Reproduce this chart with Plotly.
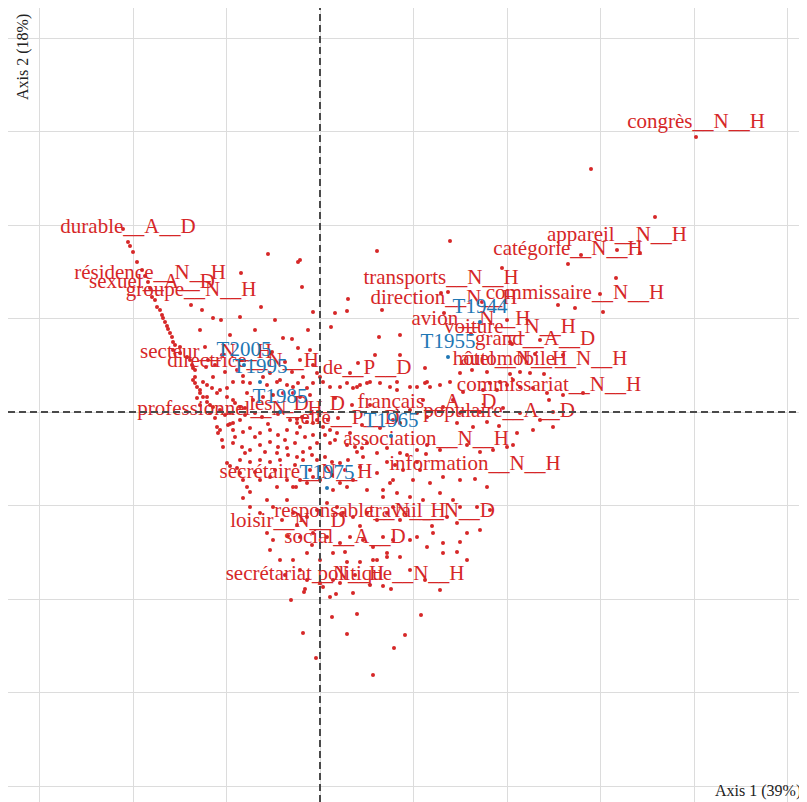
import plotly.graph_objects as go

# coordonnées (axe 1, axe 2)
streak = [(-1.97, 1.83), (-1.90, 1.66), (-1.87, 1.60), (-1.83, 1.50), (-1.78, 1.42), (-1.75, 1.36),
          (-1.72, 1.30), (-1.65, 1.12), (-1.63, 1.05), (-1.60, 1.02), (-1.58, 0.97), (-1.57, 0.94),
          (-1.55, 0.90), (-1.53, 0.86), (-1.52, 0.83), (-1.50, 0.79), (-1.48, 0.75), (-1.47, 0.70),
          (-1.45, 0.67), (-1.47, 0.62), (-1.40, 0.59), (-1.40, 0.65), (-1.33, 0.55), (-1.30, 0.52),
          (-1.28, 0.47), (-1.27, 0.44), (-1.25, 0.42), (-1.25, 0.35), (-1.27, 0.32), (-1.25, 0.29),
          (-1.23, 0.25), (-1.20, 0.22), (-1.20, 0.19), (-1.23, 0.14), (-1.17, 0.15), (-1.20, 0.07),
          (-1.13, 0.10), (-1.10, 0.07), (-1.10, -0.01), (-1.07, 0.05), (-1.05, -0.06), (-1.03, -0.15),
          (-1.02, -0.21), (-1.00, -0.18), (-0.98, -0.28), (-0.97, -0.35), (-0.93, -0.51), (-0.90, -0.54),
          (-0.83, -0.56), (-0.80, -0.61), (-0.77, -0.68), (-0.73, -0.75), (-0.70, -0.80), (-0.77, -0.86)]

core_left = [(-0.52, 1.58), (-0.22, 1.50), (-0.79, 1.39), (-1.18, 1.02), (-0.59, 1.05), (-1.07, 0.94),
             (-0.99, 0.92), (-0.80, 0.95), (-0.37, 0.74), (-0.28, 0.73), (-0.22, 0.64), (-1.15, 0.65),
             (-1.17, 0.30), (-1.07, 0.35), (-1.13, 0.27), (-1.08, 0.24), (-1.00, 0.22), (-1.03, 0.19),
             (-0.93, 0.24), (-0.87, 0.30), (-0.77, 0.30), (-0.70, 0.29), (-0.57, 0.35), (-0.50, 0.39),
             (-0.40, 0.32), (-0.33, 0.27), (-0.27, 0.25), (-0.22, 0.29), (-0.17, 0.35), (-0.07, 0.29),
             (0.00, 0.35), (0.03, 0.30), (-1.13, 0.15), (-0.93, 0.15), (-0.73, 0.19), (-0.87, 0.12),
             (-0.80, 0.05), (-0.67, 0.12), (-0.57, 0.15), (-0.47, 0.17), (-0.37, 0.19), (-0.27, 0.19),
             (-0.20, 0.15), (-0.10, 0.17), (-1.00, 0.02), (-0.95, -0.03), (-0.03, -0.08), (0.08, -0.08),
             (-0.53, 0.27), (-0.43, 0.30), (-0.13, 0.24), (-0.85, 0.09), (-0.75, 0.04), (-0.65, -0.01),
             (-0.80, -0.08), (-0.30, -0.08), (-0.23, -0.11), (-0.18, -0.05), (-0.13, -0.10), (-0.07, -0.11),
             (0.03, -0.15), (0.05, -0.23), (-0.90, -0.01), (-0.87, -0.11), (-0.87, -0.18), (-0.77, -0.20),
             (-0.70, -0.16), (-0.60, -0.21), (-0.50, -0.18), (-0.42, -0.23), (-0.33, -0.18), (-0.23, -0.21),
             (-0.15, -0.25), (-0.07, -0.23), (-0.87, -0.31), (-0.78, -0.35), (-0.70, -0.38), (-0.60, -0.33),
             (-0.50, -0.30), (-0.42, -0.35), (-0.33, -0.36), (-0.25, -0.31), (-0.17, -0.40), (-0.10, -0.36),
             (-0.03, -0.31), (-0.80, -0.48), (-0.70, -0.50), (-0.60, -0.48), (-0.50, -0.50), (-0.40, -0.48),
             (-0.32, -0.43), (-0.23, -0.45), (-0.17, -0.48), (-0.08, -0.43), (-0.03, -0.48), (0.05, -0.45),
             (-0.43, -0.41), (-0.75, -0.03), (-0.58, -0.05), (-0.42, -0.02), (-0.52, -0.12), (-0.65, -0.25),
             (-0.35, -0.28), (-0.20, -0.15), (-0.55, -0.40), (-0.75, -0.41), (-0.25, -0.53), (-0.45, -0.58),
             (-0.65, -0.60), (-0.10, -0.58), (-0.92, -0.13), (-0.85, -0.25), (-1.05, 0.47), (-0.95, 0.40),
             (-0.83, 0.42), (-0.35, 0.50), (-0.20, 0.52), (-0.10, 0.62), (-0.48, 0.60), (-0.98, 0.57),
             (-1.12, 0.52), (-0.28, 0.40), (-0.07, 0.47), (-0.65, 0.82), (-0.90, 0.77), (-1.20, 0.82),
             (-0.45, 0.92), (-0.12, 0.82)]

core_right = [(0.10, 0.25), (0.27, 0.29), (0.33, 0.24), (0.40, 0.27), (0.50, 0.30), (0.70, 0.25),
              (0.77, 0.30), (0.97, 0.25), (1.05, 0.29), (0.10, -0.31), (0.15, -0.28), (0.27, -0.33),
              (0.35, -0.35), (0.42, -0.36), (0.10, -0.18), (0.17, -0.21), (0.12, -0.50), (0.20, -0.51),
              (0.28, -0.48), (0.37, -0.40), (0.43, -0.45), (0.57, -0.41), (0.67, -0.50), (0.87, -0.43),
              (0.97, -0.50), (1.07, -0.33), (0.73, -0.08), (0.80, -0.11), (0.90, 0.02), (0.97, -0.01),
              (1.03, 0.12), (0.37, 0.25), (0.60, 0.29), (0.77, 0.22), (0.90, 0.25), (1.07, 0.30),
              (1.20, 0.27), (1.30, 0.30), (1.43, 0.20), (1.63, 0.22), (1.77, 0.22), (1.87, 0.27),
              (2.00, 0.25), (2.13, 0.24), (2.27, 0.19), (2.43, 0.17), (2.63, 0.19), (1.23, 0.05),
              (1.33, 0.12), (1.40, -0.01), (1.60, 0.00), (1.83, 0.04), (2.00, -0.01), (2.33, 0.00),
              (1.37, -0.11), (1.53, -0.15), (1.67, -0.10), (1.97, -0.21), (2.13, -0.18), (2.20, -0.08),
              (2.33, -0.15), (0.47, -0.31), (0.67, -0.36), (0.80, -0.41), (0.97, -0.38), (1.20, -0.38),
              (1.47, -0.33), (1.60, -0.40), (1.73, -0.38), (1.87, -0.35), (1.93, -0.33), (0.40, -0.55),
              (0.57, -0.61), (0.73, -0.68), (0.83, -0.58), (0.93, -0.68), (1.10, -0.71), (1.23, -0.65),
              (1.40, -0.68), (1.67, -0.75), (0.47, -0.78), (0.63, -0.85), (0.77, -0.81), (0.90, -0.85),
              (1.03, -0.88), (1.20, -0.81), (1.33, -0.88), (1.40, -0.95), (1.57, -0.95), (1.27, -1.05),
              (1.37, -1.11), (1.47, -1.21), (0.97, -1.25), (1.13, -1.21), (1.07, -1.35), (1.23, -1.31),
              (1.40, -1.30), (1.23, -1.41), (1.37, -1.40), (0.40, -1.50), (0.53, -1.48), (0.67, -1.45),
              (0.80, -1.45), (1.47, -1.48), (1.20, -1.78), (0.20, -1.71), (0.33, -1.81), (0.15, 0.14),
              (0.32, 0.07), (0.18, -0.06), (0.50, 0.07), (0.60, -0.16), (0.42, -0.13), (0.25, -0.58),
              (0.12, -0.63), (0.75, -0.53), (1.00, -0.58)]

core_low = [(-0.60, -0.68), (-0.50, -0.65), (-0.43, -0.75), (-0.33, -0.68), (-0.27, -0.75), (-0.20, -0.68),
            (-0.13, -0.71), (-0.07, -0.65), (0.00, -0.68), (0.13, -0.78), (0.20, -0.71), (0.27, -0.75),
            (0.33, -0.68), (0.63, -0.78), (0.70, -0.71), (-0.70, -0.95), (-0.60, -1.01), (-0.53, -0.88),
            (-0.47, -0.95), (-0.33, -0.88), (-0.27, -1.01), (-0.13, -1.05), (-0.03, -0.98), (0.07, -0.91),
            (0.17, -0.95), (0.23, -1.01), (0.33, -1.05), (0.47, -1.01), (0.57, -1.08), (0.67, -1.01),
            (0.73, -0.95), (-0.53, -1.21), (-0.47, -1.28), (-0.20, -1.25), (-0.07, -1.21), (0.07, -1.25),
            (0.20, -1.31), (0.30, -1.25), (0.43, -1.28), (0.53, -1.35), (0.63, -1.25), (0.73, -1.28),
            (-0.50, -1.38), (-0.40, -1.48), (-0.27, -1.48), (-0.13, -1.41), (0.00, -1.48), (0.13, -1.41),
            (0.27, -1.50), (0.57, -1.48), (0.67, -1.41), (-0.20, -1.58), (-0.13, -1.68), (0.00, -1.71),
            (0.03, -1.75), (0.13, -1.68), (0.10, -1.85), (-0.38, -1.08), (-0.23, -1.13), (-0.08, -1.33),
            (-0.35, -1.63), (0.35, -1.63), (0.50, -1.73), (0.90, -1.58), (1.05, -1.68), (0.80, -1.08),
            (0.90, -1.28), (1.60, -1.18), (1.70, -0.98)]

tail = [(-0.29, -1.88), (-0.16, -1.80), (0.16, -1.82), (0.63, -1.74), (0.12, -2.05), (0.37, -2.02),
        (1.01, -2.03), (-0.17, -2.21), (0.27, -2.22), (0.85, -2.23), (0.74, -2.36), (-0.04, -2.46),
        (0.53, -2.63)]

outer = [(2.71, 2.43), (3.35, 1.95), (2.61, 1.57), (3.20, 1.59), (2.96, 1.34), (2.80, 1.18), (2.38, 1.07),
         (2.83, 1.00), (2.43, 0.57), (1.30, 1.71), (0.57, 1.61), (1.82, 1.44), (-0.20, 1.52), (-0.18, 1.25),
         (0.28, 1.13), (0.62, 1.02), (0.15, 0.99), (-0.07, 1.00), (0.27, 1.01), (0.11, 0.85), (0.59, 0.75),
         (0.80, 0.77), (0.55, 0.57), (0.80, 0.57), (0.38, 0.49), (0.30, 0.39), (-0.03, 0.39), (0.20, 0.25),
         (1.92, 0.68), (1.28, 1.20), (1.62, 1.10), (1.87, 0.92), (2.20, 0.72), (1.05, 0.44), (1.52, 0.42),
         (1.67, 0.40), (2.00, 0.40), (1.10, 0.25), (1.70, 0.29), (1.93, 0.32), (1.40, 0.39), (1.80, 0.30),
         (2.10, 0.39)]

# modalités étiquetées (lignes)
row_labels = ["congrès__N__H", "appareil__N__H", "catégorie__N__H", "durable__A__D", "résidence__N__H",
              "sexuel__A__D", "groupe__N__H", "transports__N__H", "direction__N__H", "commissaire__N__H",
              "avion__N__H", "voiture__N__H", "grand__A__D", "hôtel__N__H", "automobile__N__H",
              "commissariat__N__H", "de__P__D", "français__A__D", "populaire__A__D", "association__N__H",
              "information__N__H", "secrétaire__N__H", "responsable__N__H", "travail__N__D", "loisir__N__D",
              "social__A__D", "secrétariat__N__H", "politique__N__H", "professionnel__N__H", "secteur__N__H",
              "directrice__N__H", "les__D__D", "elle__P__D"]
row_x = [3.76, 2.97, 2.48, -1.92, -1.70, -1.68, -1.29, 1.21, 1.24, 2.55, 1.51, 1.90, 2.15, 1.90, 2.24,
         2.29, 0.47, 1.07, 1.79, 1.06, 1.55, -0.24, 0.40, 1.12, -0.32, 0.25, -0.15, 0.71, -0.90, -1.14,
         -0.77, -0.23, 0.30]
row_y = [2.75, 1.62, 1.48, 1.70, 1.24, 1.15, 1.07, 1.19, 0.99, 1.04, 0.78, 0.70, 0.58, 0.38, 0.38,
         0.12, 0.29, -0.05, -0.14, -0.42, -0.67, -0.75, -1.14, -1.14, -1.24, -1.40, -1.77, -1.77, -0.12, 0.45,
         0.36, -0.07, -0.21]

# périodes (colonnes)
col_labels = ["T1944", "T1955", "T1965", "T1975", "T1985", "T1995", "T2005"]
col_x = [1.60, 1.28, 0.71, 0.07, -0.40, -0.60, -0.76]
col_y = [0.90, 0.55, -0.24, -0.76, 0.00, 0.30, 0.47]

RED = "#d62728"
BLUE = "#1f77b4"
SERIF = "Liberation Serif"

dots = streak + core_left + core_right + core_low + tail + outer

fig = go.Figure()
fig.add_trace(go.Scatter(x=[p[0] for p in dots], y=[p[1] for p in dots], mode="markers",
                         marker=dict(size=4, color=RED), hoverinfo="skip", showlegend=False))
fig.add_trace(go.Scatter(x=row_x, y=row_y, mode="markers+text", text=row_labels,
                         textposition="top center",
                         textfont=dict(family=SERIF, size=21, color=RED),
                         marker=dict(size=4, color=RED), showlegend=False))
fig.add_trace(go.Scatter(x=col_x, y=col_y, mode="markers+text", text=col_labels,
                         textposition="top center",
                         textfont=dict(family=SERIF, size=21, color=BLUE),
                         marker=dict(size=4, color=BLUE), showlegend=False))

x_range = [-3.12, 4.87]
y_range = [-3.90, 4.04]

fig.update_layout(
    width=799, height=794,
    margin=dict(l=0, r=0, t=0, b=0),
    paper_bgcolor="white", plot_bgcolor="white",
    xaxis=dict(range=x_range, dtick=0.935, tick0=0, showticklabels=False, ticks="",
               gridcolor="#dcdcdc", gridwidth=1, zeroline=False, showline=False),
    yaxis=dict(range=y_range, dtick=0.935, tick0=0, showticklabels=False, ticks="",
               gridcolor="#dcdcdc", gridwidth=1, zeroline=False, showline=False),
    shapes=[
        dict(type="line", xref="x", yref="y", x0=0, x1=0, y0=y_range[0], y1=y_range[1],
             line=dict(color="#4a4a4a", width=2, dash="7px,4px")),
        dict(type="line", xref="x", yref="y", x0=x_range[0], x1=x_range[1], y0=0, y1=0,
             line=dict(color="#4a4a4a", width=2, dash="7px,4px")),
    ],
    annotations=[
        dict(text="Axis 1 (39%)", xref="paper", yref="paper", x=1, y=0, xanchor="right",
             yanchor="bottom", xshift=-4, showarrow=False,
             font=dict(family=SERIF, size=16, color="#222")),
        dict(text="Axis 2 (18%)", xref="paper", yref="paper", x=0.005, y=0.995, xanchor="left",
             yanchor="top", textangle=-90, showarrow=False,
             font=dict(family=SERIF, size=16, color="#222")),
    ],
)

fig.write_html("out.html", config=dict(displayModeBar=False))
